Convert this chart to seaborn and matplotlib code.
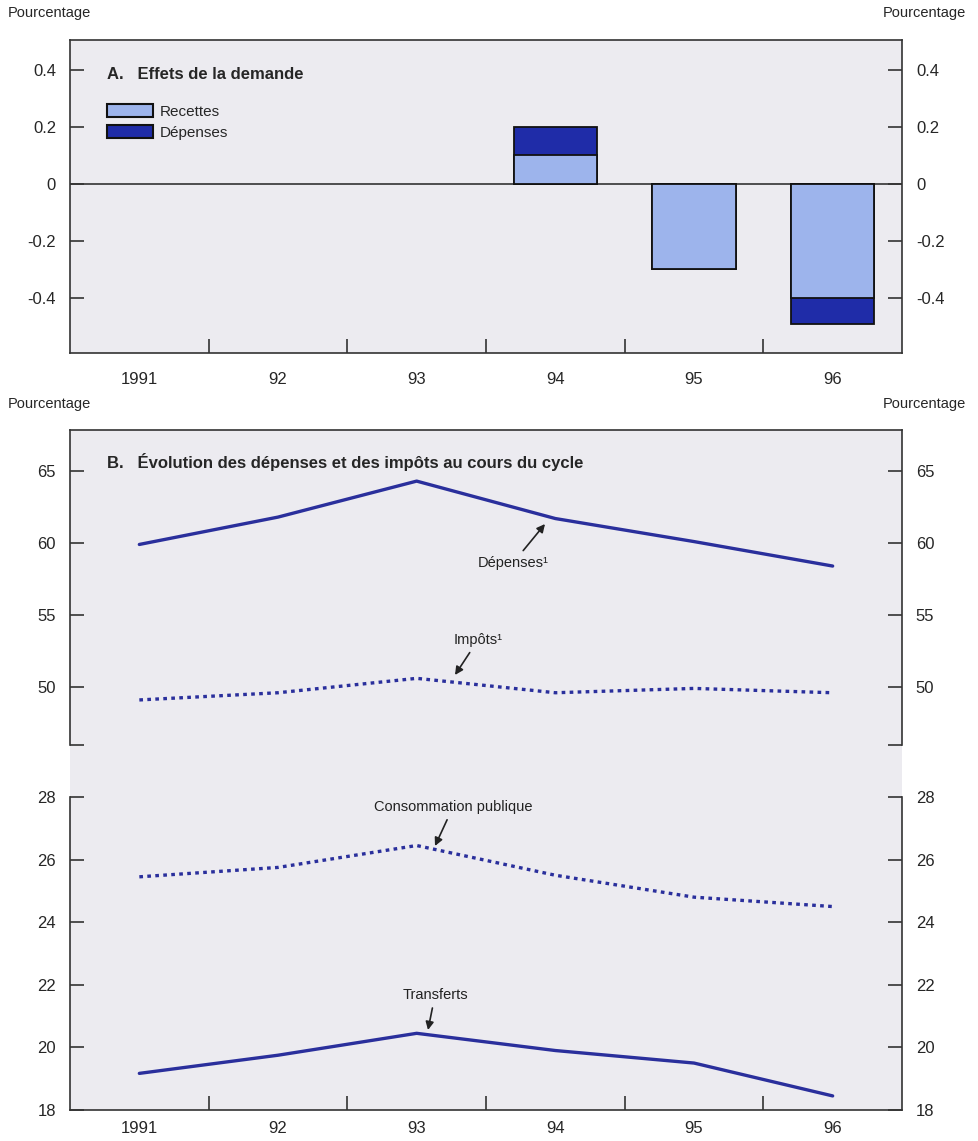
import numpy as np
import pandas as pd
import matplotlib
matplotlib.use("Agg")
import matplotlib.pyplot as plt
from matplotlib.patches import Rectangle, Patch
import seaborn as sns

# Panel A data (no bars for 1991-93)
years = ["1991", "92", "93", "94", "95", "96"]
recettes = [np.nan, np.nan, np.nan, 0.1, -0.3, -0.4]
depenses_eff = [np.nan, np.nan, np.nan, 0.1, 0.0, -0.09]

# Panel B data
depenses = [59.9, 61.8, 64.3, 61.7, 60.1, 58.4]
impots = [49.1, 49.6, 50.6, 49.6, 49.9, 49.6]
conso_pub = [25.45, 25.75, 26.45, 25.5, 24.8, 24.5]
transferts = [19.17, 19.75, 20.45, 19.9, 19.5, 18.45]

sns.set_style("white")
plt.rcParams["font.family"] = ["Liberation Sans", "DejaVu Sans"]

LIGHT = "#9db4ec"
DARK = "#1f2ca8"
NAVY = "#2a2f9c"
BG = "#ecebf0"
W, H = 979, 1141

fig = plt.figure(figsize=(W / 100, H / 100), dpi=100)


def box(x0, y0, x1, y1):
    return [x0 / W, 1 - y1 / H, (x1 - x0) / W, (y1 - y0) / H]


def style_axis(ax, ticks, labels, ylim):
    ax.set_facecolor(BG)
    ax.set_ylim(*ylim)
    ax.set_xlim(-0.5, 5.5)
    ax.set_yticks(ticks)
    ax.set_yticklabels(labels)
    ax.tick_params(axis="y", direction="in", length=10, width=1.2,
                   left=True, right=True, labelleft=True, labelright=True,
                   labelsize=12, pad=10, color="#333333")
    for s in ax.spines.values():
        s.set_color("#333333")
        s.set_linewidth(1.2)
    ax.set_xlabel("")
    ax.set_ylabel("")


def style_x(ax, pad):
    ax.set_xticks(range(6))
    ax.set_xticklabels(years)
    ax.set_xticks(np.arange(0.5, 5, 1), minor=True)
    ax.tick_params(axis="x", which="major", length=0, labelsize=12, pad=pad)
    ax.tick_params(axis="x", which="minor", direction="in", length=10,
                   width=1.2, bottom=True, color="#333333")


# ---------------- Panel A ----------------
axA = fig.add_axes(box(70, 40, 902, 353))
df_a = pd.DataFrame({"annee": years,
                     "total": np.array(recettes) + np.array(depenses_eff),
                     "recettes": recettes})
sns.barplot(data=df_a, x="annee", y="total", color=DARK, saturation=1,
            width=0.6, edgecolor="#111111", linewidth=1.3, ax=axA)
sns.barplot(data=df_a, x="annee", y="recettes", color=LIGHT, saturation=1,
            width=0.6, edgecolor="#111111", linewidth=1.3, ax=axA)
axA.axhline(0, color="#333333", lw=1.2, zorder=0.5)
style_axis(axA, [-0.4, -0.2, 0, 0.2, 0.4], ["-0.4", "-0.2", "0", "0.2", "0.4"],
           (-0.593, 0.505))
style_x(axA, 14)
axA.text(0.045, 0.89, "A.   Effets de la demande", transform=axA.transAxes,
         fontsize=12, fontweight="bold", va="center")
handles = [Patch(facecolor=LIGHT, edgecolor="#111111", lw=1.5, label="Recettes"),
           Patch(facecolor=DARK, edgecolor="#111111", lw=1.5, label="Dépenses")]
axA.legend(handles=handles, loc="upper left", bbox_to_anchor=(0.045, 0.797),
           frameon=False, fontsize=11, handlelength=3.0, handleheight=1.0,
           handletextpad=0.4, labelspacing=0.4, borderaxespad=0, borderpad=0)

fig.text(8 / W, 1 - 13 / H, "Pourcentage", fontsize=10.5, va="center")
fig.text(966 / W, 1 - 13 / H, "Pourcentage", fontsize=10.5, va="center", ha="right")
fig.text(8 / W, 1 - 404 / H, "Pourcentage", fontsize=10.5, va="center")
fig.text(966 / W, 1 - 404 / H, "Pourcentage", fontsize=10.5, va="center", ha="right")

# ---------------- Panel B ----------------
fig.patches.append(Rectangle((70 / W, 1 - 1110 / H), 832 / W, 680 / H,
                             transform=fig.transFigure, facecolor=BG,
                             edgecolor="none", zorder=-5))

axT = fig.add_axes(box(70, 430, 902, 745))
axB = fig.add_axes(box(70, 797, 902, 1110))

x = np.arange(6)
df_b = pd.DataFrame({"x": x, "dep": depenses, "imp": impots,
                     "conso": conso_pub, "trans": transferts})

sns.lineplot(data=df_b, x="x", y="dep", color=NAVY, lw=2.4, ax=axT)
sns.lineplot(data=df_b, x="x", y="imp", color=NAVY, lw=2.4, ax=axT,
             linestyle=(0, (1.1, 1.3)))
sns.lineplot(data=df_b, x="x", y="conso", color=NAVY, lw=2.4, ax=axB,
             linestyle=(0, (1.1, 1.3)))
sns.lineplot(data=df_b, x="x", y="trans", color=NAVY, lw=2.4, ax=axB)

style_axis(axT, [45.97, 50, 55, 60, 65], ["", "50", "55", "60", "65"],
           (45.97, 67.85))
style_axis(axB, [18, 20, 22, 24, 26, 28], ["18", "20", "22", "24", "26", "28"],
           (18, 28))
axT.spines["bottom"].set_visible(False)
axT.set_xticks([])
axB.spines["top"].set_visible(False)
style_x(axB, 8)

axT.text(0.045, 0.9, "B.   Évolution des dépenses et des impôts au cours du cycle",
         transform=axT.transAxes, fontsize=12, fontweight="bold", va="center")


def note(ax, txt, xy, xytext):
    ax.annotate(txt, xy=xy, xytext=xytext, fontsize=10.5, ha="center",
                va="bottom", color="#222222",
                arrowprops=dict(arrowstyle="-|>", color="#222222", lw=1.2,
                                mutation_scale=12, shrinkA=2, shrinkB=0))


# pixel -> data helpers for label placement
def tx(px):
    return (px - 70) / 832 * 6 - 0.5


def tyT(py):
    return 65 - (py - 471) / 14.4


def tyB(py):
    return 28 - (py - 797) / 31.3


note(axT, "Dépenses¹", (tx(545), tyT(524)), (tx(513), tyT(570)))
note(axT, "Impôts¹", (tx(455), tyT(675)), (tx(478), tyT(647)))
note(axB, "Consommation publique", (tx(435), tyB(846)), (tx(453), tyB(814)))
note(axB, "Transferts", (tx(428), tyB(1030)), (tx(435), tyB(1002)))

fig.savefig("out.png", dpi=100)
